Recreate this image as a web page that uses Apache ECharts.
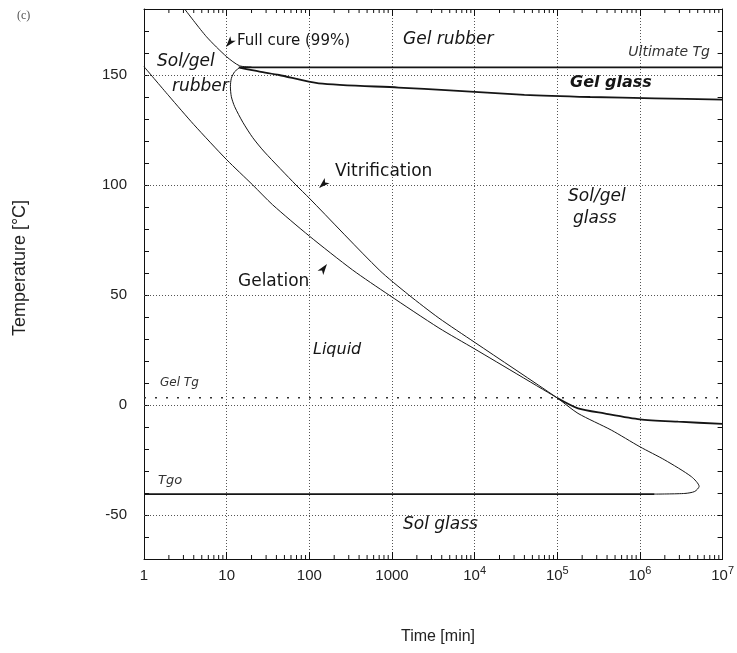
<!DOCTYPE html>
<html><head><meta charset="utf-8">
<script src="https://cdn.jsdelivr.net/npm/echarts@6/dist/echarts.min.js"></script>
<style>html,body{margin:0;padding:0;background:#fff}#c{width:737px;height:653px}</style>
</head><body><div id="c"></div>
<script>
// ---- data ----
const xTickLabels = ['1', '10', '100', '1000', '10^4', '10^5', '10^6', '10^7'];
const yGridValues = [150, 100, 50, 0, -50];

const gelTime = [1, 2, 4, 10, 20.7, 36, 100, 333, 920, 3700, 10000, 100000];
const gelTemp = [153.8, 140.5, 127.5, 111.5, 100, 91, 76.8, 61.4, 50, 35, 25.5, 3.2];

const gelTailTime = [100000, 178000, 370000, 1000000, 2900000, 10000000];
const gelTailTemp = [3.2, -1.5, -3.8, -6.5, -7.6, -8.6];

const vitTime = [14.3, 12.5, 11.4, 11.1, 11.4, 12.5, 15.7, 20.7, 28.7, 69, 100, 700, 1600, 3700, 10000, 100000, 178000, 450000, 1000000, 2000000, 4200000, 5200000, 4600000, 3500000, 1500000];
const vitTemp = [153.3, 151.5, 148.5, 144.7, 140.1, 135.6, 128.5, 121.5, 115, 100, 94, 61.4, 50, 39.5, 28.5, 3.2, -3.8, -11.4, -19, -25, -32.6, -37, -39.3, -40.2, -40.5];

const gelGlassTime = [14.3, 25, 43, 130, 1200, 5000, 40000, 250000, 1500000, 10000000];
const gelGlassTemp = [153.3, 151.5, 150, 146.2, 144.3, 143, 141, 140, 139.4, 138.8];

const fullCureTime = [3.1, 5.7, 10, 14.3, 20];
const fullCureTemp = [180, 167.4, 158.3, 154.2, 153.6];

const ultimateTgTime = [14, 10000000];
const ultimateTg = 153.5;
const gelTgTime = [1, 10000000];
const gelTg = 3.3;
const tg0Time = [1, 1500000];
const tg0 = -40.5;

const xMin = 1, xMax = 1e7, yMin = -70, yMax = 180;

// ---- helpers ----
const zip = (a, b) => a.map((t, i) => [t, b[i]]);
const flat = (ts, v) => ts.map(t => [t, v]);
const minorTicks = [];
for (let k = 0; k < 7; k++) for (let m = 2; m <= 9; m++) minorTicks.push([m * Math.pow(10, k), 0]);

const INK = '#151515';
const labelFont = '"Liberation Sans", Arial, sans-serif';
const annFont = '"DejaVu Sans", sans-serif';

function txt(text, x, y, size, opts) {
  opts = opts || {};
  return {
    type: 'text', x: x, y: y, rotation: opts.rotation || 0, z: 100,
    style: {
      text: text, fill: opts.fill || INK,
      font: (opts.italic ? 'italic ' : '') + (opts.bold ? 'bold ' : '') + size + 'px ' + (opts.family || annFont),
      align: opts.align || 'left', verticalAlign: 'middle'
    }
  };
}
function arrow(tx, ty, fx, fy, len, half) {
  let dx = tx - fx, dy = ty - fy;
  const n = Math.hypot(dx, dy); dx /= n; dy /= n;
  const bx = tx - dx * len, by = ty - dy * len;
  const px = -dy, py = dx;
  return {
    type: 'polygon', z: 100,
    shape: { points: [[tx, ty], [bx + px * half, by + py * half], [tx - dx * len * 0.75, ty - dy * len * 0.75], [bx - px * half, by - py * half]] },
    style: { fill: INK }
  };
}

function lineSeries(name, data, width, extra) {
  return Object.assign({
    name: name, type: 'line', data: data, symbol: 'none', smooth: 0.25,
    lineStyle: { color: INK, width: width }, silent: true, z: 5
  }, extra || {});
}

const chart = echarts.init(document.getElementById('c'), null, { renderer: 'canvas' });
const axisLineStyle = { color: '#111', width: 1 };
chart.setOption({
  animation: false,
  backgroundColor: '#fff',
  grid: { left: 144, top: 9, width: 580, height: 550 },
  xAxis: [{
    type: 'log', logBase: 10, min: xMin, max: xMax, splitNumber: 7, position: 'bottom',
    axisLine: { show: true, onZero: false, lineStyle: axisLineStyle },
    axisTick: { show: true, inside: true, length: 7, lineStyle: axisLineStyle },
    axisLabel: {
      margin: 6, color: '#222', fontSize: 15, fontFamily: labelFont,
      formatter: v => {
        const s = xTickLabels[Math.round(Math.log10(v))].split('^');
        return '{b|' + s[0] + '}{s|' + (s.length > 1 ? s[1] : '\u200b') + '}';
      },
      rich: {
        b: { fontSize: 15, fontFamily: labelFont, color: '#222', verticalAlign: 'bottom' },
        s: { fontSize: 11, fontFamily: labelFont, color: '#222', verticalAlign: 'bottom', padding: [0, 0, 7, 0] }
      }
    },
    splitLine: { show: true, lineStyle: { color: '#555', type: [1, 2], width: 1 } }
  }, {
    type: 'log', logBase: 10, min: xMin, max: xMax, splitNumber: 7, position: 'top',
    axisLine: { show: true, onZero: false, lineStyle: axisLineStyle },
    axisTick: { show: true, inside: true, length: 7, lineStyle: axisLineStyle },
    axisLabel: { show: false }, splitLine: { show: false }
  }],
  yAxis: [{
    type: 'value', min: yMin, max: yMax, interval: 10, position: 'left',
    axisLine: { show: true, onZero: false, lineStyle: axisLineStyle },
    axisTick: { show: true, inside: true, length: 5, lineStyle: axisLineStyle },
    axisLabel: { margin: 17, color: '#222', fontSize: 15, fontFamily: labelFont,
      formatter: v => (v % 50 === 0 ? String(v) : '') },
    splitLine: { show: false }
  }, {
    type: 'value', min: yMin, max: yMax, interval: 10, position: 'right',
    axisLine: { show: true, onZero: false, lineStyle: axisLineStyle },
    axisTick: { show: true, inside: true, length: 5, lineStyle: axisLineStyle },
    axisLabel: { show: false }, splitLine: { show: false }
  }],
  series: [
    lineSeries('Gel Tg', flat(gelTgTime, gelTg), 1.5, {
      smooth: false, lineStyle: { color: '#333', width: 1.5, type: [2, 9] },
      markLine: {
        silent: true, symbol: ['none', 'none'], label: { show: false },
        lineStyle: { color: '#555', type: [1, 2], width: 1 },
        data: yGridValues.map(v => ({ yAxis: v }))
      }
    }),
    lineSeries('Gelation', zip(gelTime, gelTemp), 1),
    lineSeries('Gelation tail', zip(gelTailTime, gelTailTemp), 1.8),
    lineSeries('Vitrification', zip(vitTime, vitTemp), 1),
    lineSeries('Gel glass', zip(gelGlassTime, gelGlassTemp), 1.8),
    lineSeries('Full cure (99%)', zip(fullCureTime, fullCureTemp), 1),
    lineSeries('Ultimate Tg', flat(ultimateTgTime, ultimateTg), 1.8, { smooth: false }),
    lineSeries('Tgo', flat(tg0Time, tg0), 1.8, { smooth: false }),
    {
      name: 'minor ticks', type: 'custom', silent: true, data: minorTicks, encode: { x: 0, y: 1 },
      renderItem: function (params, api) {
        const v = api.value(0);
        const b = api.coord([v, yMin]);
        const t = api.coord([v, yMax]);
        const st = { stroke: '#111', lineWidth: 1 };
        return { type: 'group', children: [
          { type: 'line', shape: { x1: b[0], y1: b[1], x2: b[0], y2: b[1] - 4 }, style: st },
          { type: 'line', shape: { x1: t[0], y1: t[1], x2: t[0], y2: t[1] + 4 }, style: st }
        ] };
      }
    }
  ],
  graphic: [
    txt('(c)', 17, 16, 12, { family: '"Liberation Serif", serif', fill: '#555' }),
    txt('Full cure (99%)', 237, 41, 15),
    arrow(226, 47, 236, 35, 11, 3.6),
    txt('Gel rubber', 403, 40, 17, { italic: true }),
    txt('Ultimate Tg', 710, 52, 14, { italic: true, align: 'right', fill: '#333' }),
    txt('Gel glass', 570, 83, 16, { italic: true, bold: true }),
    txt('Sol/gel', 157, 62, 17, { italic: true }),
    txt('rubber', 172, 87, 17, { italic: true }),
    txt('Vitrification', 335, 172, 17),
    arrow(319, 188, 331, 177, 11, 3.6),
    txt('Gelation', 238, 282, 17),
    arrow(327, 264, 318, 276, 11, 3.6),
    txt('Sol/gel', 568, 197, 17, { italic: true }),
    txt('glass', 573, 219, 17, { italic: true }),
    txt('Liquid', 313, 350, 16, { italic: true }),
    txt('Gel Tg', 160, 383, 12, { italic: true, fill: '#333' }),
    txt('Tgo', 158, 481, 13, { italic: true, fill: '#333' }),
    txt('Sol glass', 403, 525, 17, { italic: true }),
    txt('Time [min]', 438, 637, 16, { family: labelFont, align: 'center', fill: '#222' }),
    txt('Temperature [°C]', 20, 268, 18, { family: labelFont, align: 'center', rotation: Math.PI / 2, fill: '#222' })
  ]
});
</script>
</body></html>
